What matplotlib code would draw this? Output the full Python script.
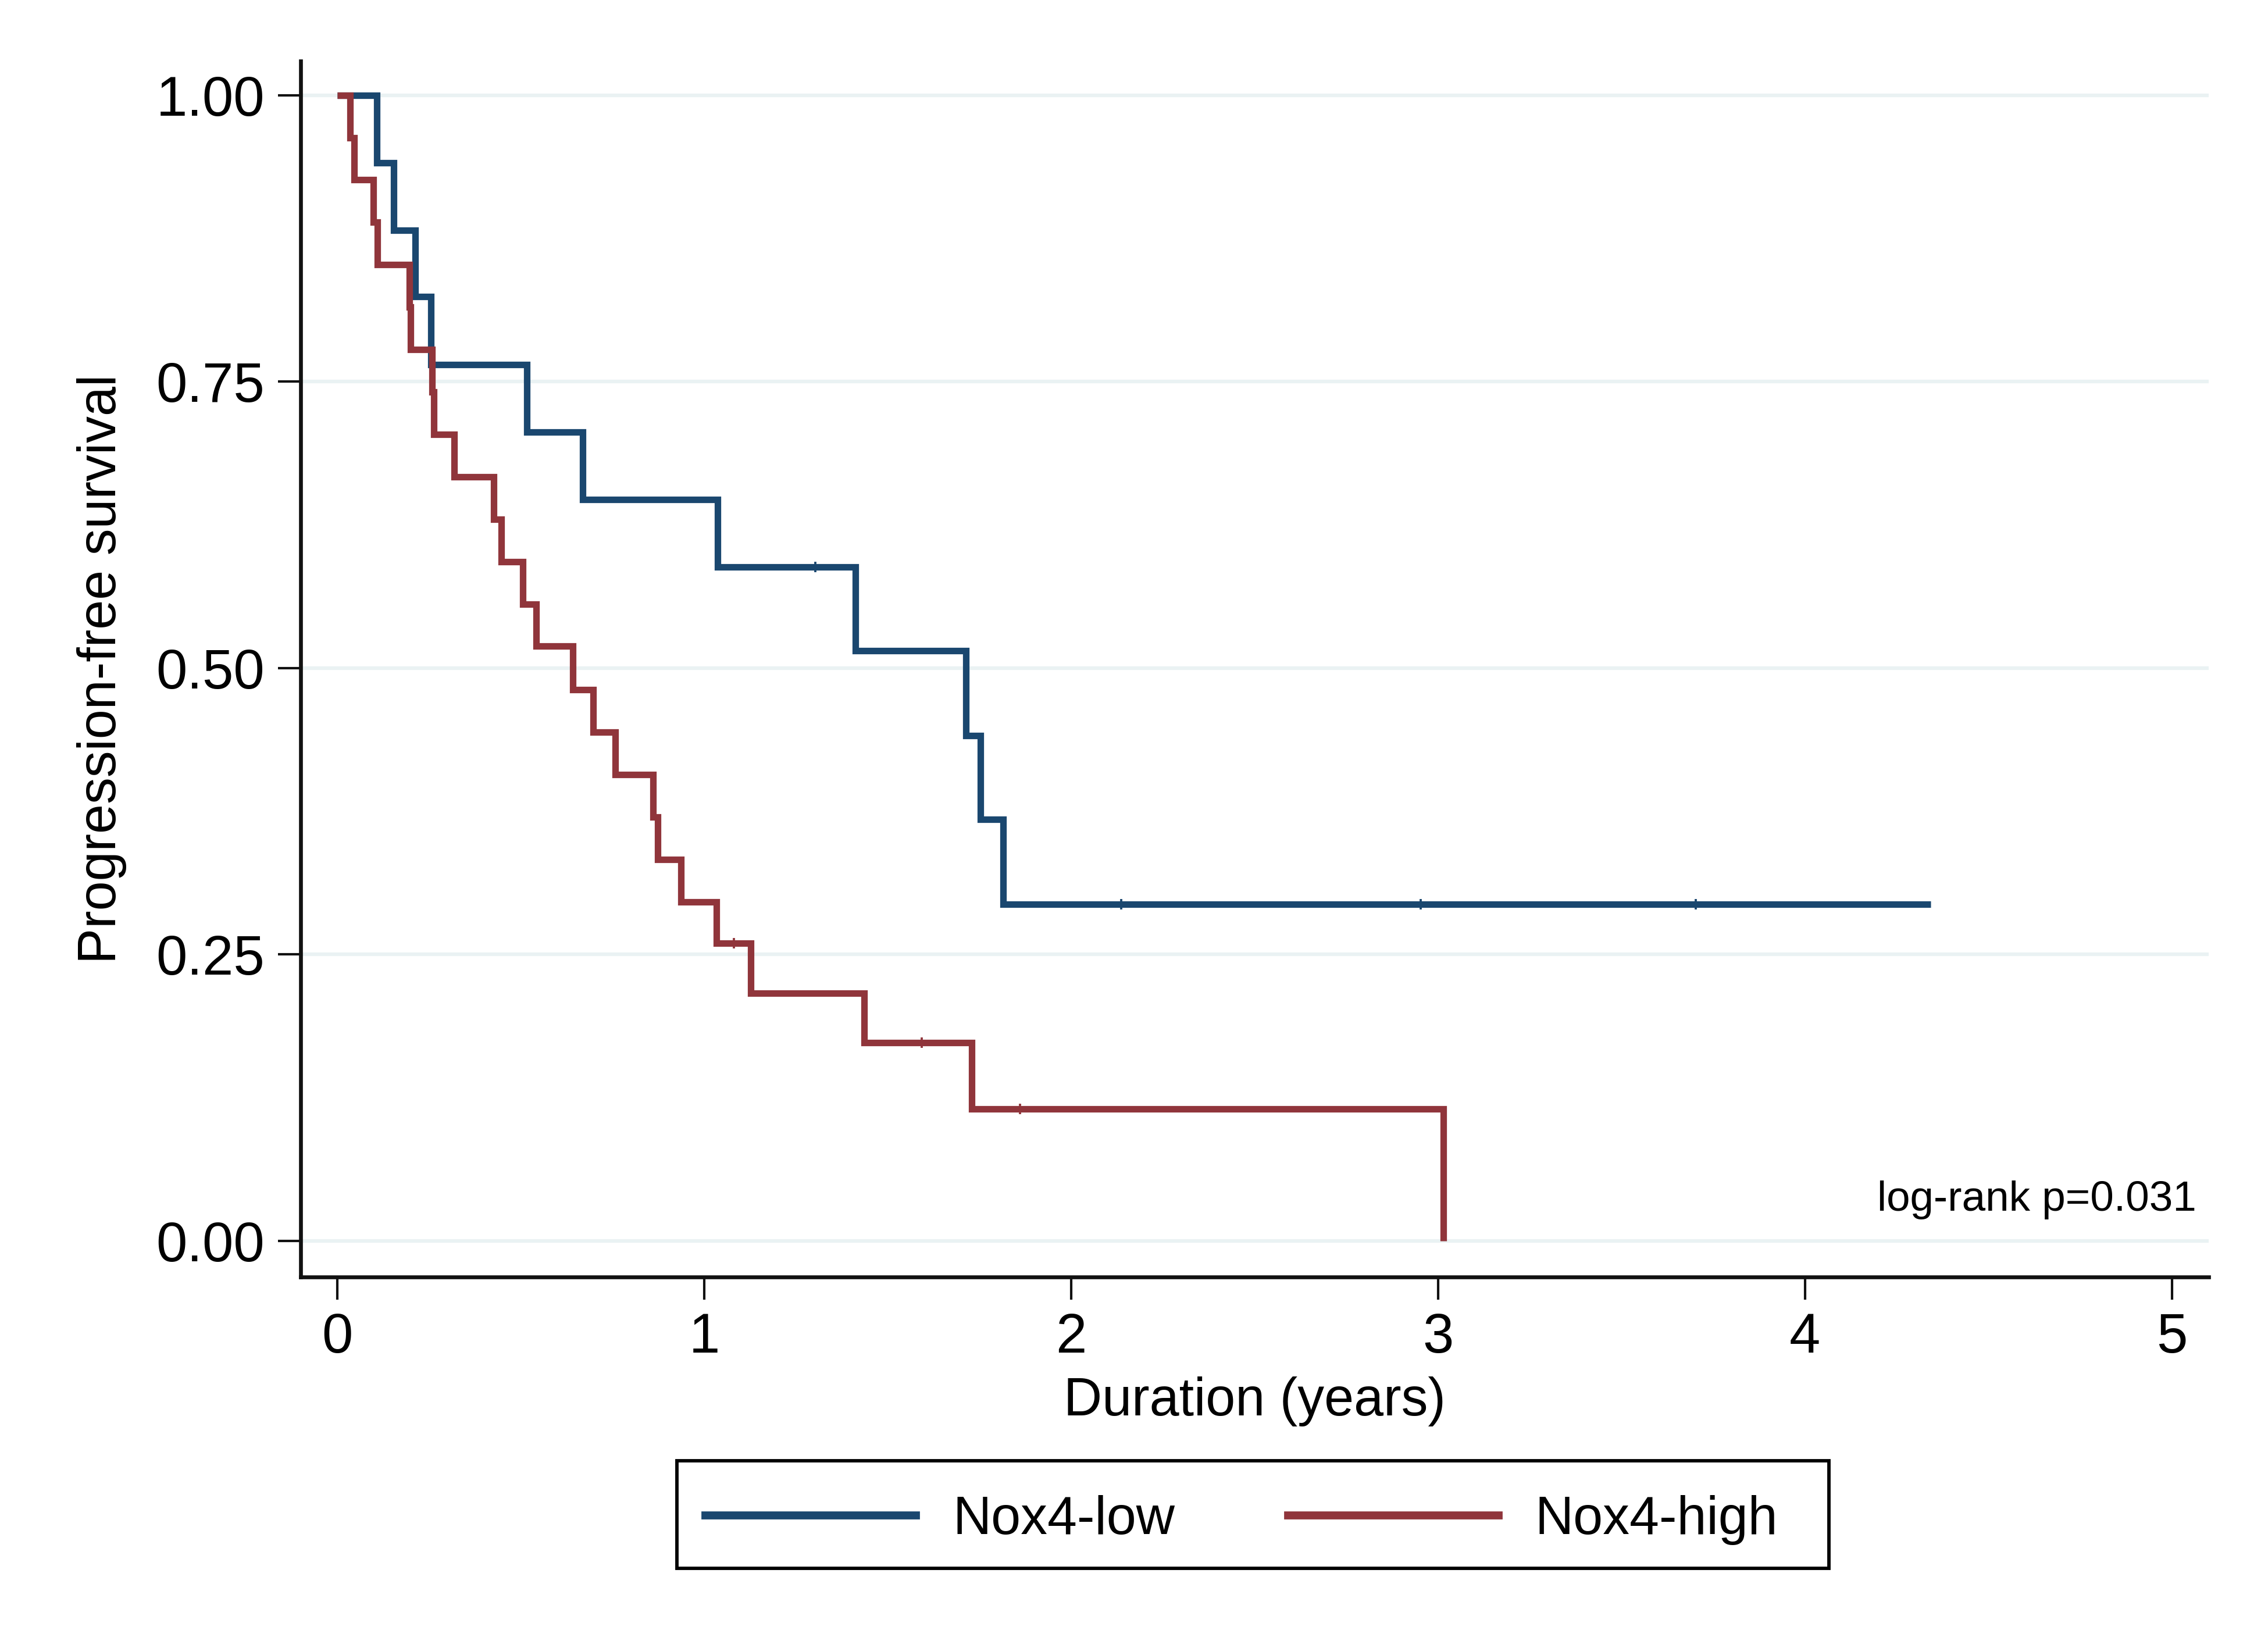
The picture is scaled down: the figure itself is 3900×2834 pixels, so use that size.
import numpy as np
import matplotlib
matplotlib.use("Agg")
import matplotlib.pyplot as plt
from matplotlib.lines import Line2D
from matplotlib.patches import Rectangle

plt.rcParams['font.family'] = ['Liberation Sans', 'DejaVu Sans']

# ---------------- data ----------------
group_labels = ["Nox4-low", "Nox4-high"]
group_colors = ["#1a476f", "#90353b"]

# Nox4-low: step times (first = start, last = end of follow-up) and survival levels
low_times = [0.0, 0.107, 0.1535, 0.2125, 0.2547, 0.516, 0.6686, 1.037, 1.412,
             1.713, 1.753, 1.814, 4.343]
low_surv = [1.0, 0.941, 0.882, 0.824, 0.765, 0.706, 0.647, 0.588, 0.515,
            0.441, 0.368, 0.294, 0.294]
low_censor = [1.303, 2.137, 2.952, 3.702]

# Nox4-high
high_times = [0.0, 0.0344, 0.0455, 0.0978, 0.109, 0.1957, 0.200, 0.258, 0.2625,
              0.318, 0.426, 0.446, 0.505, 0.541, 0.641, 0.6963, 0.7575, 0.861,
              0.873, 0.936, 1.033, 1.126, 1.435, 1.7297, 3.015]
high_surv = [1.0, 0.963, 0.926, 0.889, 0.852, 0.815, 0.778, 0.741, 0.704,
             0.667, 0.630, 0.593, 0.556, 0.519, 0.481, 0.444, 0.407, 0.370,
             0.333, 0.296, 0.260, 0.216, 0.173, 0.115, 0.0]
high_censor = [1.080, 1.593, 1.860]

x_ticks = [0, 1, 2, 3, 4, 5]
y_ticks = [0.0, 0.25, 0.5, 0.75, 1.0]
y_ticklabels = ["0.00", "0.25", "0.50", "0.75", "1.00"]
annotation = "log-rank p=0.031"
x_title = "Duration (years)"
y_title = "Progression-free survival"

# ---------------- figure ----------------
W, H = 3900, 2834
fig = plt.figure(figsize=(W / 300, H / 300), dpi=300)
ax = fig.add_axes([0.1326, 0.2251, 0.9738 - 0.1326, 0.9631 - 0.2251])

ax.set_xlim(-0.1, 5.1)
ax.set_ylim(-0.0315, 1.030)

# gridlines
for yv in y_ticks:
    ax.axhline(yv, color="#eaf2f3", lw=1.5, zorder=0)

series = [(low_times, low_surv, low_censor), (high_times, high_surv, high_censor)]
for (t, s, c), col in zip(series, group_colors):
    ax.step(t, s, where="post", color=col, lw=2.7, solid_joinstyle="miter",
            solid_capstyle="butt", zorder=3)
    t_arr = np.asarray(t)
    s_arr = np.asarray(s)
    idx = np.searchsorted(t_arr, c, side="right") - 1
    ax.plot(c, s_arr[idx], ls="none", marker="|", ms=4.5, mew=0.9,
            color=col, zorder=4)

ax.text(5.067, 0.0264, annotation, ha="right", va="baseline", fontsize=17.5,
        color="black")

# axes styling
for side in ["top", "right"]:
    ax.spines[side].set_visible(False)
for side in ["left", "bottom"]:
    ax.spines[side].set_linewidth(1.6)
    ax.spines[side].set_color("#111111")

ax.set_xticks(x_ticks)
ax.set_xticklabels([str(v) for v in x_ticks])
ax.set_yticks(y_ticks)
ax.set_yticklabels(y_ticklabels)
ax.tick_params(axis="both", length=9.4, width=1.0, color="#111111",
               labelsize=23)
ax.tick_params(axis="y", pad=5.5)
ax.tick_params(axis="x", pad=5)

ax.set_xlabel(x_title, fontsize=22, labelpad=5)
ax.set_ylabel(y_title, fontsize=22, labelpad=12)

# legend frame (figure coordinates)
fig.patches.append(Rectangle((1164 / W, 1 - 2697 / H), (3145 - 1164) / W,
                             (2697 - 2512) / H, transform=fig.transFigure,
                             facecolor="white", edgecolor="black", lw=1.4,
                             zorder=1))

handles = [Line2D([0], [0], color=c, lw=3.3) for c in group_colors]
leg = fig.legend(handles, group_labels, loc="center left",
                 bbox_to_anchor=(1213 / W, 1 - 2614 / H), ncol=2, fontsize=22,
                 handlelength=3.95, handletextpad=0.69, columnspacing=2.12,
                 borderpad=0, borderaxespad=0, frameon=False)
leg.set_zorder(2)

fig.savefig("out.png", dpi=300, facecolor="white")
